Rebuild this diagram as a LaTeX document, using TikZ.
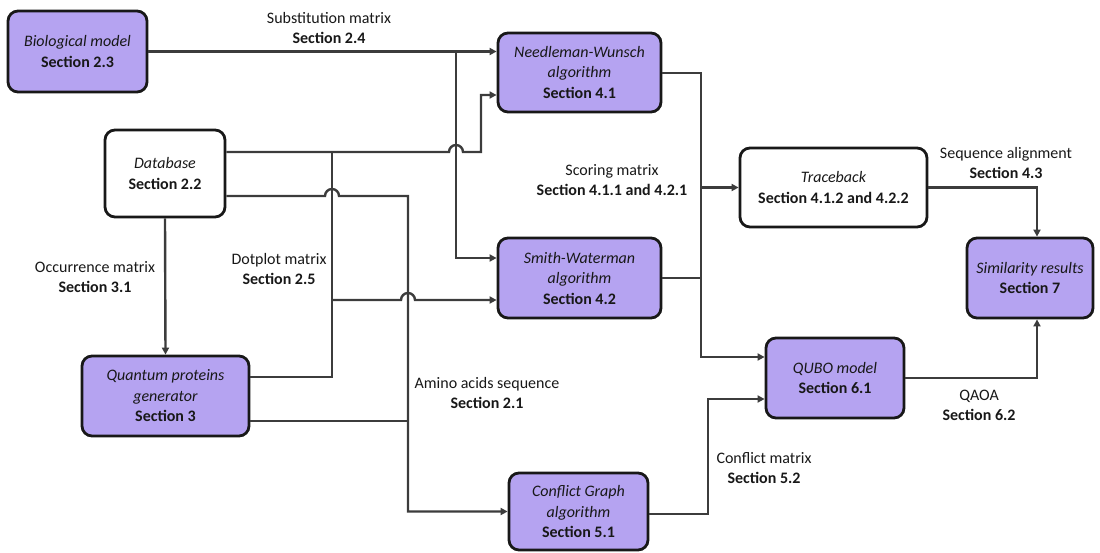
\documentclass[tikz,border=0pt]{standalone}
\usepackage{fontspec}
\setmainfont{Carlito}
\usetikzlibrary{arrows.meta,calc}
\definecolor{boxfill}{RGB}{181,163,241}
\definecolor{wirecol}{RGB}{60,60,60}
\definecolor{ink}{RGB}{24,24,24}

\begin{document}
\begin{tikzpicture}[x=1pt,y=-1pt,
  box/.style={draw=ink, line width=2.8pt, rounded corners=10pt, align=center,
    font=\fontsize{16}{20.5}\selectfont, text=ink, inner sep=0pt},
  proc/.style={box, fill=boxfill},
  plainbox/.style={box, fill=white},
  wire/.style={draw=wirecol, line width=2.4pt},
  arr/.style={wire, -{Triangle[length=7pt,width=7pt]}},
  lbl/.style={align=center, font=\fontsize{16}{20}\selectfont, text=ink, inner sep=0pt},
]
\useasboundingbox (0,0) rectangle (1100,552);

% ---- blocks ----
\node[proc, minimum width=139pt, minimum height=81pt] (bio) at (77.5,51.5)
  {\textit{Biological model}\\\textbf{Section 2.3}};
\node[plainbox, minimum width=120pt, minimum height=87pt] (db) at (165,173.5)
  {\textit{Database}\\\textbf{Section 2.2}};
\node[proc, minimum width=167pt, minimum height=80pt] (qp) at (165.5,396)
  {\textit{Quantum proteins}\\\textit{generator}\\\textbf{Section 3}};
\node[proc, minimum width=163pt, minimum height=79pt] (nw) at (579.5,72.5)
  {\textit{Needleman-Wunsch}\\\textit{algorithm}\\\textbf{Section 4.1}};
\node[proc, minimum width=163pt, minimum height=80pt] (sw) at (579.5,278)
  {\textit{Smith-Waterman}\\\textit{algorithm}\\\textbf{Section 4.2}};
\node[proc, minimum width=139pt, minimum height=77pt] (cg) at (578.5,511.5)
  {\textit{Conflict Graph}\\\textit{algorithm}\\\textbf{Section 5.1}};
\node[plainbox, minimum width=187pt, minimum height=79pt] (tb) at (833.5,187.5)
  {\textit{Traceback}\\\textbf{Section 4.1.2 and 4.2.2}};
\node[proc, minimum width=138pt, minimum height=80pt] (qubo) at (835,378)
  {\textit{QUBO model}\\\textbf{Section 6.1}};
\node[proc, minimum width=126pt, minimum height=80pt] (sim) at (1030,278)
  {\textit{Similarity results}\\\textbf{Section 7}};

% ---- junction points on the buses ----
\coordinate (jsub) at (456,51);
\coordinate (jdb)  at (332,152);
\coordinate (jdot) at (332,300);
\coordinate (jaa)  at (408,421);
\coordinate (jnw)  at (701,73);
\coordinate (jsw)  at (701,278);
\coordinate (jtb)  at (701,187.5);

% ---- connectors ----
% substitution matrix
\draw[arr] (bio.east) -- (nw.west |- bio.east);
\draw[arr] (jsub) |- ($(sw.west)+(0,-20)$);
% database to Needleman-Wunsch, hopping over the substitution bus
\draw[arr] ($(db.east)+(0,-21.5)$) -- (449,152)
  arc[start angle=180,end angle=0,radius=7pt] -- (481,152)
  |- ($(nw.west)+(0,22.5)$);
% dotplot matrix
\draw[wire] (jdb) |- ($(qp.east)+(0,-19)$);
\draw[arr] (jdot) -- (401,300)
  arc[start angle=180,end angle=0,radius=7pt] -- (sw.west |- jdot);
% amino acids sequence
\draw[arr] ($(db.east)+(0,22.5)$) -- (325,196)
  arc[start angle=180,end angle=0,radius=7pt] -- (408,196)
  |- (cg.west);
\draw[wire] ($(qp.east)+(0,25)$) -- (jaa);
% occurrence matrix
\draw[arr] (db.south) -- (qp.north);
% scoring matrix
\draw[arr] ($(nw.east)+(0,0.5)$) -- (jnw) |- ($(qubo.west)+(0,-21)$);
\draw[wire] (sw.east) -- (jsw);
\draw[arr] (jtb) -- (tb.west);
% sequence alignment
\draw[arr] (tb.east) -| ($(sim.north)+(7,0)$);
% QAOA
\draw[arr] (qubo.east) -| ($(sim.south)+(7,0)$);
% conflict matrix
\draw[arr] ($(cg.east)+(0,2.5)$) -- (708,514) |- ($(qubo.west)+(0,21)$);

% ---- connector labels ----
\node[lbl] (lsub) at (329,28.5) {Substitution matrix\\\textbf{Section 2.4}};
\node[lbl] (locc) at (95,277.5) {Occurrence matrix\\\textbf{Section 3.1}};
\node[lbl] (ldot) at (279,268.5) {Dotplot matrix\\\textbf{Section 2.5}};
\node[lbl] (lsco) at (612,180) {Scoring matrix\\\textbf{Section 4.1.1 and 4.2.1}};
\node[lbl] (lami) at (487,393) {Amino acids sequence\\\textbf{Section 2.1}};
\node[lbl] (lseq) at (1006,163) {Sequence alignment\\\textbf{Section 4.3}};
\node[lbl] (lqa)  at (979,405) {QAOA\\\textbf{Section 6.2}};
\node[lbl] (lcon) at (764,468) {Conflict matrix\\\textbf{Section 5.2}};
\end{tikzpicture}
\end{document}
